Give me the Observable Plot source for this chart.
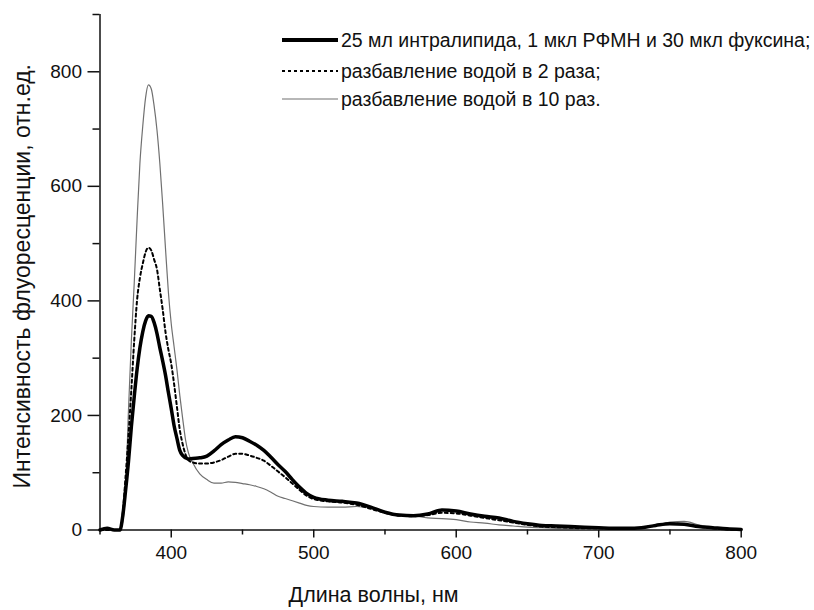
<!DOCTYPE html>
<html>
<head>
<meta charset="utf-8">
<script src="https://cdn.jsdelivr.net/npm/d3@7"></script>
<script src="https://cdn.jsdelivr.net/npm/@observablehq/plot@0.6"></script>
<style>
  html, body { margin: 0; padding: 0; background: #fff; }
  #wrap { position: relative; width: 814px; height: 610px; overflow: hidden; font-family: "Liberation Sans", Arial, sans-serif; }
  .leg { position: absolute; left: 282px; height: 22px; display: flex; align-items: center; font-size: 19.5px; color: #111; white-space: nowrap; }
  .leg svg { display: block; margin-right: 3px; }
</style>
</head>
<body>
<div id="wrap"></div>
<script>
// ---- data ----
const wavelength = [350,355,360,364,366,368,370,372,374,376,378,380,382,384,386,388,390,392,394,396,398,400,402,404,406,408,410,412,415,420,425,430,435,440,445,450,455,460,465,470,475,480,485,490,495,500,510,520,530,540,550,560,570,580,590,600,610,620,630,640,650,660,670,680,690,700,710,720,730,740,750,760,770,780,790,800];

const thickSeries = [0,3,0,0,25,70,120,180,232,280,318,346,365,374,373,362,343,318,295,270,240,212,182,160,139,130,126,124,125,126,129,138,149,157,163,161,155,148,139,127,114,102,88,75,64,57,52,50,47,40,31,26,25,28,35,33,28,24,21,15,11,8,7,6,5,4,3,3,4,8,11,10,6,4,2,1];

const dashedSeries = [0,0,0,0,30,95,165,245,330,401,440,465,485,493,488,472,455,420,385,345,315,290,255,215,175,150,132,122,118,116,116,118,122,128,133,133,130,126,121,112,102,92,81,70,60,54,50,48,44,37,30,25,24,26,30,29,25,21,17,13,9,6,5,4,3,3,3,3,4,8,11,10,6,3,1,0];

const thinSeries = [0,0,0,0,15,70,210,330,430,540,640,705,755,777,770,740,698,640,568,490,415,360,320,280,235,195,158,135,118,98,88,82,82,84,83,81,79,76,72,66,59,55,51,47,43,41,40,40,41,38,31,27,25,21,20,18,14,12,9,7,5,4,3,3,2,2,2,2,3,7,14,15,9,4,2,1];

const seriesNames = [
  "25 мл интралипида, 1 мкл РФМН и 30 мкл фуксина;",
  "разбавление водой в 2 раза;",
  "разбавление водой в 10 раз."
];

const xMajorTicks = [400, 500, 600, 700, 800];
const xMinorTicks = [350, 450, 550, 650, 750];
const yMajorTicks = [0, 200, 400, 600, 800];
const yMinorTicks = [100, 300, 500, 700, 900];

const xLabel = "Длина волны, нм";
const yLabel = "Интенсивность флуоресценции, отн.ед.";

// ---- build rows ----
const rows = (vals) => wavelength.map((w, i) => ({w, v: vals[i]}));
const thickRows = rows(thickSeries);
const dashedRows = rows(dashedSeries);
const thinRows = rows(thinSeries);

const styles = [
  {stroke: "#000", strokeWidth: 3.5, dash: null},
  {stroke: "#000", strokeWidth: 2, dash: "3,3"},
  {stroke: "#707070", strokeWidth: 1.2, dash: null}
];

const chart = Plot.plot({
  width: 814,
  height: 610,
  marginTop: 14,
  marginLeft: 99.5,
  marginRight: 73.3,
  marginBottom: 80.5,
  x: {domain: [350, 800]},
  y: {domain: [0, 900]},
  style: {fontFamily: "'Liberation Sans', Arial, sans-serif", fontSize: "19px", color: "#111", background: "#fff"},
  marks: [
    Plot.axisX({ticks: xMajorTicks, tickSize: 8, tickPadding: 7, label: null, strokeWidth: 1.5}),
    Plot.axisX({ticks: xMinorTicks, tickSize: 5, tickFormat: () => "", label: null, strokeWidth: 1.5}),
    Plot.axisY({ticks: yMajorTicks, tickSize: 12, tickPadding: 6, label: null, strokeWidth: 1.5}),
    Plot.axisY({ticks: yMinorTicks, tickSize: 7, tickFormat: () => "", label: null, strokeWidth: 1.5}),
    Plot.ruleY([0], {stroke: "#111", strokeWidth: 1.5}),
    Plot.ruleX([350], {stroke: "#111", strokeWidth: 1.5}),
    Plot.line(thinRows, {x: "w", y: "v", stroke: styles[2].stroke, strokeWidth: styles[2].strokeWidth, curve: "monotone-x"}),
    Plot.line(dashedRows, {x: "w", y: "v", stroke: styles[1].stroke, strokeWidth: styles[1].strokeWidth, strokeDasharray: styles[1].dash, curve: "monotone-x"}),
    Plot.line(thickRows, {x: "w", y: "v", stroke: styles[0].stroke, strokeWidth: styles[0].strokeWidth, curve: "monotone-x", strokeLinejoin: "round"}),
    Plot.text([xLabel], {text: d => d, frameAnchor: "bottom", textAnchor: "middle", dx: -47, dy: 72, fontSize: 21.5, fill: "#111"}),
    Plot.text([yLabel], {text: d => d, frameAnchor: "left", textAnchor: "middle", rotate: -90, dx: -77, dy: 4, fontSize: 23, fill: "#111"})
  ]
});

const wrap = document.getElementById("wrap");
wrap.appendChild(chart);

// ---- legend ----
const legendTops = [40, 71, 99];
seriesNames.forEach((name, i) => {
  const row = document.createElement("div");
  row.className = "leg";
  row.style.top = (legendTops[i] - 11) + "px";
  const s = styles[i];
  row.innerHTML = `<svg width="56" height="22"><line x1="0" x2="56" y1="11" y2="11" stroke="${s.stroke}" stroke-width="${i === 0 ? 4 : s.strokeWidth}" ${s.dash ? `stroke-dasharray="${s.dash}"` : ""}/></svg><span></span>`;
  row.querySelector("span").textContent = name;
  wrap.appendChild(row);
});
</script>
</body>
</html>
